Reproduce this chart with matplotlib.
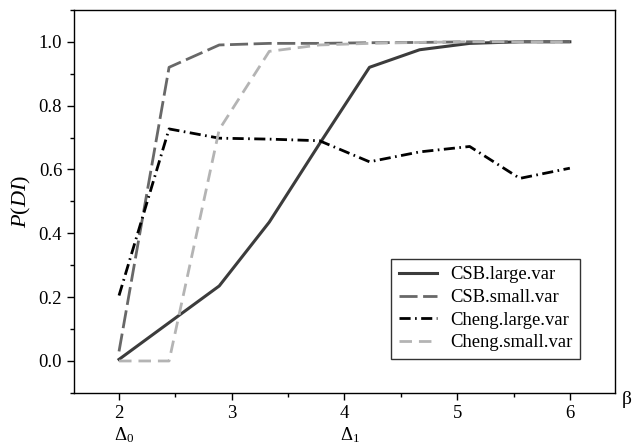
import numpy as np
import matplotlib
matplotlib.use("Agg")
import matplotlib.pyplot as plt
from matplotlib.ticker import MultipleLocator

plt.rcParams['font.family'] = ['Liberation Serif', 'DejaVu Serif']
plt.rcParams['mathtext.fontset'] = 'custom'
plt.rcParams['mathtext.rm'] = 'Liberation Serif'
plt.rcParams['mathtext.it'] = 'Liberation Serif:italic'

# --- data ---
beta = [2.0, 2.444, 2.889, 3.333, 3.778, 4.222, 4.667, 5.111, 5.556, 6.0]
csb_large = [0.005, 0.12, 0.235, 0.435, 0.68, 0.92, 0.975, 0.995, 1.0, 1.0]
csb_small = [0.03, 0.92, 0.99, 0.995, 0.995, 0.997, 0.998, 1.0, 1.0, 1.0]
cheng_large = [0.205, 0.727, 0.698, 0.695, 0.69, 0.624, 0.655, 0.672, 0.572, 0.604]
cheng_small = [0.0, 0.0, 0.725, 0.97, 0.99, 0.995, 0.998, 1.0, 1.0, 1.0]
labels = ['CSB.large.var', 'CSB.small.var', 'Cheng.large.var', 'Cheng.small.var']
delta_pos = [2.0, 4.0]
delta_txt = [r'$\Delta_0$', r'$\Delta_1$']

fig = plt.figure(figsize=(6.32, 4.48), dpi=100)
ax = fig.add_axes([0.117, 0.123, 0.856, 0.855])

ax.plot(beta, csb_large, color='#3c3c3c', lw=2.2, label=labels[0])
ax.plot(beta, csb_small, color='#686868', lw=2.0, dashes=(6.5, 2), label=labels[1])
ax.plot(beta, cheng_large, color='black', lw=2.0, dashes=(4, 1.6, 0.6, 1.6), label=labels[2])
ax.plot(beta, cheng_small, color='#b4b4b4', lw=2.0, dashes=(4.5, 2.5), label=labels[3])

ax.set_xlim(1.6, 6.4)
ax.set_ylim(-0.1, 1.1)
ax.xaxis.set_major_locator(MultipleLocator(1))
ax.xaxis.set_minor_locator(MultipleLocator(0.5))
ax.yaxis.set_minor_locator(MultipleLocator(0.1))
ax.set_yticks([0.0, 0.2, 0.4, 0.6, 0.8, 1.0])
ax.yaxis.set_major_formatter(plt.FormatStrFormatter('%.1f'))
ax.tick_params(which='major', length=5, width=1, labelsize=13.5, direction='out')
ax.tick_params(which='minor', length=3, width=1, direction='out')
for s in ax.spines.values():
    s.set_linewidth(1.0)

ax.set_ylabel(r'$P(DI)$', fontsize=16, labelpad=4)

# beta label at the end of the x axis
ax.text(1.021, -0.018, 'β', transform=ax.transAxes, fontsize=14,
        ha='center', va='center')

# Delta markers under the tick labels
trans = ax.get_xaxis_transform()
for xp, t in zip(delta_pos, delta_txt):
    ax.text(xp + 0.045, -0.084, t, transform=trans, fontsize=13.5,
            ha='center', va='top')

leg = ax.legend(loc='lower right', bbox_to_anchor=(0.952, 0.065), fontsize=13.4,
                frameon=True, fancybox=False, edgecolor='black',
                handlelength=2.05, borderpad=0.4, labelspacing=0.3,
                handletextpad=0.7)
leg.get_frame().set_linewidth(1.0)

fig.savefig('out.png', dpi=100)
